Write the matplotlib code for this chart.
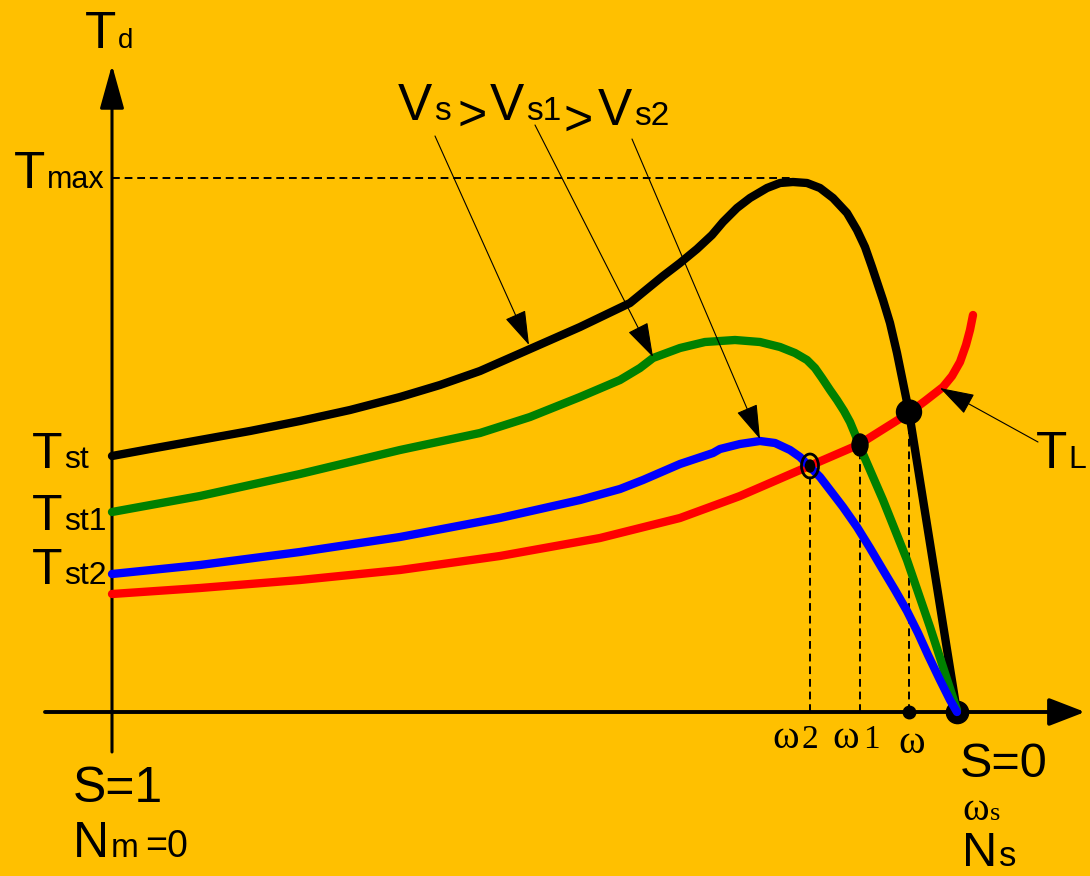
import matplotlib
matplotlib.use('Agg')
import matplotlib.pyplot as plt
from matplotlib.patches import Ellipse

BG = '#FFC000'
SANS = ['Liberation Sans', 'DejaVu Sans']
SERIF = ['Liberation Serif', 'DejaVu Serif']

# torque / speed curves, speed 0 at standstill, 845 at synchronous speed
vs_speed = [0, 38, 88, 138, 188, 238, 288, 328, 368, 418, 468, 518, 551, 568,
            585, 600, 611, 625, 638, 655, 668, 681, 695, 708, 721, 735, 745,
            753, 760, 765, 771, 778, 785, 797, 845]
vs_torque = [256, 263, 272, 281, 291, 302, 315, 327, 341, 363, 385, 409, 436, 449,
             463, 477, 490, 504, 514, 524, 529, 530, 529, 524, 514, 499, 482,
             465, 445, 430, 412, 389, 359, 300, 0]

vs1_speed = [0, 88, 188, 288, 368, 418, 468, 508, 528, 541, 568, 593, 623, 648,
             668, 683, 695, 703, 710, 718, 725, 732, 738, 743, 748, 771, 795,
             818, 845]
vs1_torque = [200, 216, 238, 262, 279, 295, 315, 332, 344, 354, 364, 370, 372, 370,
              365, 359, 352, 344, 334, 322, 312, 301, 290, 278, 265, 212, 152,
              85, 2]

vs2_speed = [0, 88, 188, 288, 388, 468, 508, 531, 568, 601, 608, 628, 648, 663,
             678, 688, 698, 708, 718, 731, 745, 758, 771, 783, 795, 806, 816,
             828, 838, 845]
vs2_torque = [138, 147, 160, 175, 194, 212, 223, 232, 248, 259, 263, 268, 271, 269,
              262, 255, 245, 235, 222, 205, 185, 164, 142, 122, 101, 79, 57,
              32, 12, 0]

load_speed = [0, 88, 188, 288, 388, 488, 568, 628, 695, 746, 797, 813, 831, 840,
              848, 854, 858, 861]
load_torque = [118, 124, 132, 142, 156, 174, 194, 216, 245, 267, 299, 311, 325, 336,
               350, 367, 382, 397]

# operating points (w2, w1, w) and peak torque
op_speed = [698, 748, 797]
op_torque = [246, 267, 300]
t_max = 534
t_max_speed = 681
sync_speed = 845

fig = plt.figure(figsize=(10.9, 8.76), dpi=100)
fig.patch.set_facecolor(BG)
ax = fig.add_axes([0, 0, 1, 1])
ax.set_facecolor(BG)
ax.set_xlim(-112, 978)
ax.set_ylim(-164, 712)
ax.axis('off')

# axes with arrow heads
ax.annotate('', xy=(0, 647), xytext=(0, -40),
            arrowprops=dict(arrowstyle='-|>,head_length=2.7,head_width=0.75',
                            mutation_scale=10, lw=2.2, color='black',
                            shrinkA=0, shrinkB=0))
ax.annotate('', xy=(973, 0), xytext=(-67, 0),
            arrowprops=dict(arrowstyle='-|>,head_length=2.2,head_width=0.85',
                            mutation_scale=10, lw=2.8, color='black',
                            shrinkA=0, shrinkB=0))

# dashed guides
dash = (0, (4, 2.5))
ax.plot([0, t_max_speed], [t_max, t_max], color='black', lw=1.4, ls=dash, zorder=2)
for s, t in zip(op_speed, op_torque):
    ax.plot([s, s], [0, t], color='black', lw=1.4, ls=dash, zorder=2)

# end point at synchronous speed sits under the curves
ax.plot([sync_speed], [0], 'o', color='black', ms=16, zorder=3)
ax.plot([op_speed[2]], [0], 'o', color='black', ms=9, zorder=3)

curve = dict(lw=6, solid_capstyle='round', solid_joinstyle='round')
ax.plot(load_speed, load_torque, color='#FF0000', zorder=4, **curve)
ax.plot(vs_speed, vs_torque, color='black', zorder=5, **curve)
ax.plot(vs1_speed, vs1_torque, color='#008000', zorder=6, **curve)
ax.plot(vs2_speed, vs2_torque, color='#0000FF', zorder=7, **curve)

# intersections with the load line
ax.add_patch(Ellipse((op_speed[0], op_torque[0]), 17, 24, fill=False,
                     ec='black', lw=2, zorder=8))
ax.add_patch(Ellipse((op_speed[0], op_torque[0]), 9, 12, color='black', zorder=8))
ax.add_patch(Ellipse((op_speed[1], op_torque[1]), 16, 22, color='black', zorder=8))
ax.add_patch(Ellipse((op_speed[2], op_torque[2]), 25, 24, color='black', zorder=8))

# pointer arrows
pointer = dict(arrowstyle='-|>,head_length=2.2,head_width=0.7', mutation_scale=10,
               lw=0.8, color='black', shrinkA=0, shrinkB=0)
ax.annotate('', xy=(417, 367), xytext=(323, 576), arrowprops=pointer, zorder=9)
ax.annotate('', xy=(541, 355), xytext=(423, 587), arrowprops=pointer, zorder=9)
ax.annotate('', xy=(648, 273), xytext=(520, 573), arrowprops=pointer, zorder=9)
ax.annotate('', xy=(828, 324), xytext=(926, 270), arrowprops=pointer, zorder=9)


def label(x, y, main, size, sub=None, sub_size=None, family=SANS, gap=1.0):
    """Big letter with a smaller suffix sitting on the same baseline."""
    t = ax.text(x, y, main, fontsize=size, family=family, ha='left',
                va='baseline', color='black', zorder=10)
    if sub:
        t = ax.annotate(sub, xy=(1, y), xycoords=(t, 'data'), xytext=(gap, 0),
                        textcoords='offset points', fontsize=sub_size,
                        family=family, ha='left', va='baseline', color='black',
                        zorder=10)
    return t


label(-27, 664, 'T', 37, 'd', 20)
label(-98, 524, 'T', 37, 'max', 22)
label(-80, 244, 'T', 36, 'st', 23)
label(-80, 182, 'T', 36, 'st1', 23)
label(-80, 128, 'T', 36, 'st2', 23)

label(286, 592, 'V', 37, 's', 24)
label(346, 582, '>', 36)
label(378, 592, 'V', 37, 's1', 24)
label(451, 577, '>', 36)
label(486, 587, 'V', 37, 's2', 24)

label(924, 244, 'T', 37, 'L', 23)

label(-39, -90, 'S=1', 36)
m = label(-39, -145, 'N', 36, 'm', 24)
ax.annotate('=0', xy=(1, -145), xycoords=(m, 'data'), xytext=(5, 0),
            textcoords='offset points', fontsize=27, family=SANS,
            ha='left', va='baseline', color='black', zorder=10)

label(848, -65, 'S=0', 35)
label(850, -108, 'ω', 29, 's', 19, family=SERIF)
label(850, -154, 'N', 35, 's', 25)

label(660, -36, 'ω', 29, '2', 24, family=SERIF, gap=2)
label(720, -36, 'ω', 29, '1', 24, family=SERIF, gap=3)
label(786, -41, 'ω', 29, family=SERIF)

fig.savefig('out.png', dpi=100, facecolor=BG)
